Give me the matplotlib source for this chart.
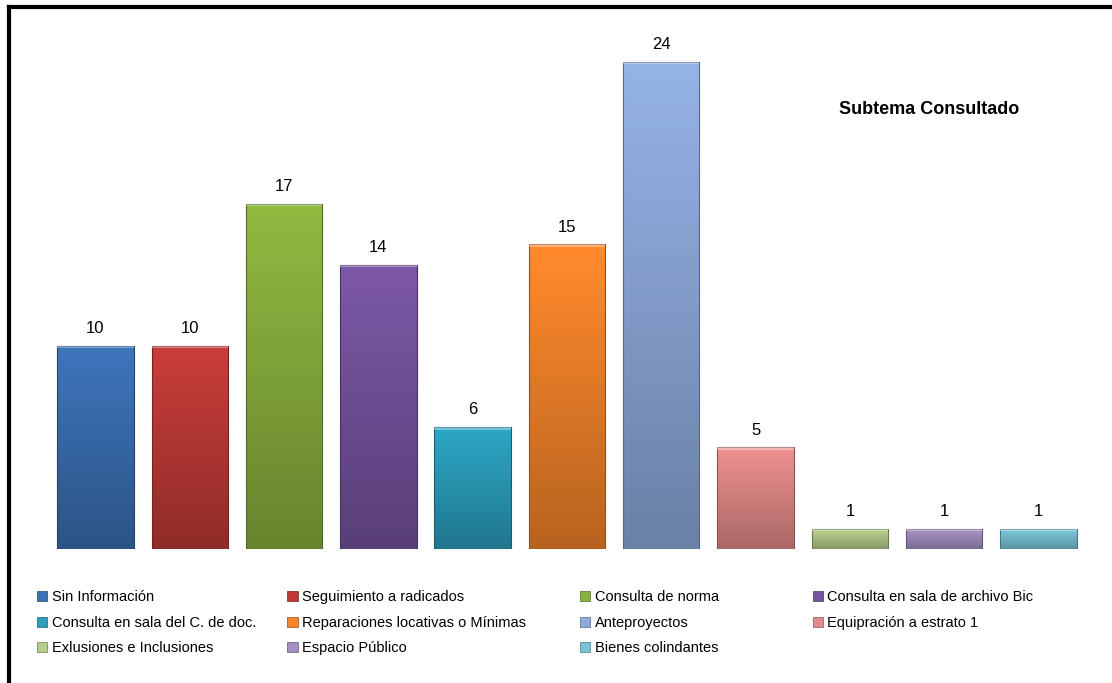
import numpy as np
import matplotlib
matplotlib.use('Agg')
import matplotlib.pyplot as plt
from matplotlib.patches import Rectangle
from matplotlib.colors import to_rgb
from matplotlib.lines import Line2D

plt.rcParams['font.family'] = ['Liberation Sans', 'DejaVu Sans']

# datos
categorias = ['Sin Información', 'Seguimiento a radicados', 'Consulta de norma',
              'Consulta en sala de archivo Bic', 'Consulta en sala del C. de doc.',
              'Reparaciones locativas o Mínimas', 'Anteproyectos', 'Equipración a estrato 1',
              'Exlusiones e Inclusiones', 'Espacio Público', 'Bienes colindantes']
valores = [10, 10, 17, 14, 6, 15, 24, 5, 1, 1, 1]
colores = ['#3b70b3', '#c03b37', '#8bb13e', '#7754a0', '#2b9fbd', '#f5842a',
           '#8fabdd', '#e38b89', '#b6cd8b', '#a290c2', '#79c3d6']

fig = plt.figure(figsize=(11.12, 6.83), dpi=100)
ax = fig.add_axes([0.0434, 0.1962, 0.9329, 0.7728])

x = np.arange(len(valores))
bars = ax.bar(x, valores, width=0.81, color=colores, zorder=2)

# degradado en cada barra
for b, c in zip(bars, colores):
    rgb = np.array(to_rgb(c))
    t = np.linspace(0, 1, 64)
    img = np.clip(rgb[None, None, :] * (1.05 - 0.3 * t)[:, None, None], 0, 1)
    b.set_facecolor('none')
    b.set_edgecolor(tuple(rgb * 0.6))
    b.set_linewidth(0.8)
    x0, w, h = b.get_x(), b.get_width(), b.get_height()
    im = ax.imshow(img, extent=[x0, x0 + w, 0, h], aspect='auto', zorder=1,
                   origin='upper')
    im.set_clip_path(b)
    # franja clara superior (bisel)
    ax.add_patch(Rectangle((x0, h - 0.12), w, 0.12, color='white', alpha=0.35,
                           lw=0, zorder=3))

ax.bar_label(bars, labels=[str(v) for v in valores], padding=7, fontsize=12)

ax.set_xlim(-0.5, len(valores) - 0.5)
ax.set_ylim(0, 26)
ax.axis('off')

ax.text(0.849, 0.832, 'Subtema Consultado', transform=ax.transAxes, fontsize=13,
        fontweight='bold', ha='center', va='center')

# leyenda en 4 columnas (orden por filas)
cols_x = [0.0335, 0.2585, 0.5218, 0.731]
for j in range(4):
    idx = list(range(j, len(categorias), 4))
    handles = []
    for i in idx:
        handles.append(Rectangle((0, 0), 1, 1, facecolor=colores[i],
                                 edgecolor=tuple(np.array(to_rgb(colores[i])) * 0.6), lw=0.5))
    leg = fig.legend(handles, [categorias[i] for i in idx], loc='upper left',
                     bbox_to_anchor=(cols_x[j], 0.136), frameon=False, fontsize=10.5,
                     handlelength=0.7, handleheight=0.7, handletextpad=0.3,
                     labelspacing=0.8, borderaxespad=0, borderpad=0)

# marco
fig.add_artist(Line2D([0.0085, 1.0], [0.9895, 0.9895], color='black', lw=3,
                      transform=fig.transFigure))
fig.add_artist(Line2D([0.0085, 0.0085], [0.0, 0.9895], color='black', lw=3,
                      transform=fig.transFigure))

fig.savefig('out.png', dpi=100)
